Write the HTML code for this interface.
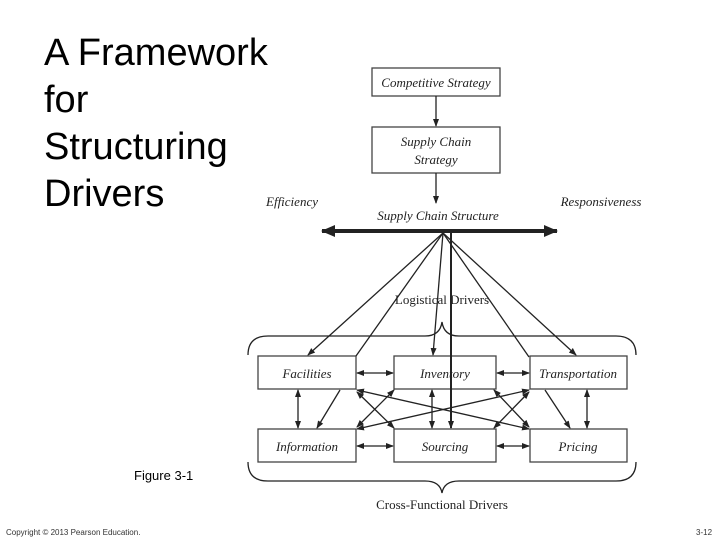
<!DOCTYPE html>
<html><head><style>
body{margin:0;width:720px;height:540px;background:#fff;position:relative;overflow:hidden;font-family:"Liberation Sans",sans-serif}
.t{position:absolute;left:44px;top:30px;font-size:38px;line-height:47px;color:#000}
</style></head><body>
<div class="t">A Framework<br>for<br>Structuring<br>Drivers</div>
<div style="position:absolute;left:134px;top:468px;font-size:13px">Figure 3-1</div>
<div style="position:absolute;left:6px;top:528px;font-size:8px;color:#333">Copyright © 2013 Pearson Education.</div>
<div style="position:absolute;left:696px;top:528px;font-size:8px;color:#333">3-12</div>
<svg width="720" height="540" style="position:absolute;left:0;top:0" font-family="Liberation Serif,serif">
<defs><marker id="a" markerWidth="8" markerHeight="8" refX="7" refY="4" orient="auto-start-reverse" markerUnits="userSpaceOnUse"><path d="M0,1 L8,4 L0,7 Z" fill="#222"/></marker>
<marker id="b" markerWidth="14" markerHeight="12" refX="13" refY="6" orient="auto-start-reverse" markerUnits="userSpaceOnUse"><path d="M0,0 L14,6 L0,12 Z" fill="#222"/></marker></defs>
<g fill="#fff" stroke="#444" stroke-width="1.3">
<rect x="372" y="68" width="128" height="28"/>
<rect x="372" y="127" width="128" height="46"/>
<rect x="258" y="356" width="98" height="33"/>
<rect x="394" y="356" width="102" height="33"/>
<rect x="530" y="356" width="97" height="33"/>
<rect x="258" y="429" width="98" height="33"/>
<rect x="394" y="429" width="102" height="33"/>
<rect x="530" y="429" width="97" height="33"/>
</g>
<g font-style="italic" font-size="13" text-anchor="middle" fill="#222">
<text x="436" y="87">Competitive Strategy</text>
<text x="436" y="146">Supply Chain</text><text x="436" y="164">Strategy</text>
<text x="292" y="206">Efficiency</text>
<text x="601" y="206">Responsiveness</text>
<text x="438" y="220">Supply Chain Structure</text>
<text x="307" y="378">Facilities</text>
<text x="445" y="378">Inventory</text>
<text x="578" y="378">Transportation</text>
<text x="307" y="451">Information</text>
<text x="445" y="451">Sourcing</text>
<text x="578" y="451">Pricing</text>
</g>
<text x="442" y="304" font-size="13" text-anchor="middle" fill="#222">Logistical Drivers</text>
<text x="442" y="509" font-size="13" text-anchor="middle" fill="#222">Cross-Functional Drivers</text>
<g stroke="#222" stroke-width="1.3" fill="none">
<line x1="436" y1="96" x2="436" y2="126" marker-end="url(#a)"/>
<line x1="436" y1="173" x2="436" y2="203" marker-end="url(#a)"/>
<line x1="322" y1="231" x2="557" y2="231" stroke-width="4" marker-start="url(#b)" marker-end="url(#b)"/>
<line x1="443" y1="233" x2="308" y2="355" marker-end="url(#a)"/>
<line x1="443" y1="233" x2="356" y2="356"/>
<line x1="443" y1="233" x2="433" y2="355" marker-end="url(#a)"/>
<line x1="451" y1="233" x2="451" y2="428" stroke-width="2" marker-end="url(#a)"/>
<line x1="443" y1="233" x2="529" y2="357"/>
<line x1="443" y1="233" x2="576" y2="355" marker-end="url(#a)"/>
<line x1="340" y1="390" x2="317" y2="428" marker-end="url(#a)"/>
<line x1="545" y1="390" x2="570" y2="428" marker-end="url(#a)"/>
<line x1="357" y1="373" x2="393" y2="373" marker-start="url(#a)" marker-end="url(#a)"/>
<line x1="497" y1="373" x2="529" y2="373" marker-start="url(#a)" marker-end="url(#a)"/>
<line x1="357" y1="446" x2="393" y2="446" marker-start="url(#a)" marker-end="url(#a)"/>
<line x1="497" y1="446" x2="529" y2="446" marker-start="url(#a)" marker-end="url(#a)"/>
<line x1="298" y1="390" x2="298" y2="428" marker-start="url(#a)" marker-end="url(#a)"/>
<line x1="432" y1="390" x2="432" y2="428" marker-start="url(#a)" marker-end="url(#a)"/>
<line x1="587" y1="390" x2="587" y2="428" marker-start="url(#a)" marker-end="url(#a)"/>
<line x1="357" y1="390" x2="529" y2="429" marker-start="url(#a)" marker-end="url(#a)"/>
<line x1="357" y1="429" x2="529" y2="390" marker-start="url(#a)" marker-end="url(#a)"/>
<line x1="357" y1="392" x2="394" y2="428" marker-start="url(#a)" marker-end="url(#a)"/>
<line x1="394" y1="390" x2="357" y2="427" marker-start="url(#a)" marker-end="url(#a)"/>
<line x1="494" y1="390" x2="529" y2="427" marker-start="url(#a)" marker-end="url(#a)"/>
<line x1="494" y1="428" x2="529" y2="392" marker-start="url(#a)" marker-end="url(#a)"/>
<path d="M248,355 Q248,336 268,336 L425,336 Q440,336 442,322 Q444,336 459,336 L616,336 Q636,336 636,355"/>
<path d="M248,462 Q248,481 268,481 L425,481 Q440,481 442,493 Q444,481 459,481 L616,481 Q636,481 636,462"/>
</g>
</svg>
</body></html>
